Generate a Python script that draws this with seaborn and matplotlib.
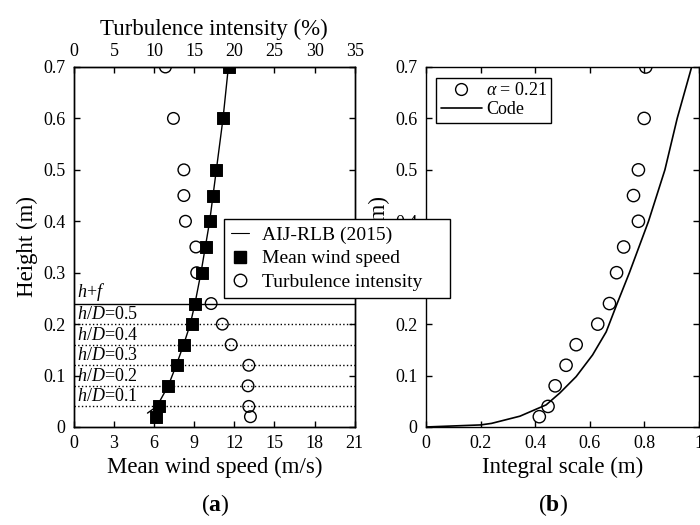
import matplotlib
matplotlib.use("Agg")
import matplotlib.pyplot as plt
import seaborn as sns
from matplotlib.lines import Line2D
from matplotlib.ticker import FormatStrFormatter

# (a) measured profiles
heights = [0.02, 0.04, 0.08, 0.12, 0.16, 0.20, 0.24, 0.30, 0.35, 0.40, 0.45, 0.50, 0.60, 0.70]
mean_speed = [6.1, 6.33, 7.0, 7.67, 8.24, 8.84, 9.04, 9.54, 9.85, 10.16, 10.37, 10.6, 11.16, 11.58]
turb_intensity = [22.0, 21.8, 21.7, 21.8, 19.6, 18.5, 17.1, 15.3, 15.2, 13.9, 13.7, 13.7, 12.4, 11.4]

# AIJ-RLB (2015) profile
aij_height = [0.027, 0.04, 0.08, 0.12, 0.16, 0.20, 0.24, 0.30, 0.40, 0.50, 0.60, 0.70]
aij_speed = [5.5, 6.2, 7.05, 7.65, 8.2, 8.7, 9.05, 9.5, 10.15, 10.65, 11.15, 11.55]

# h/D levels
hd_labels = ["0.1", "0.2", "0.3", "0.4", "0.5"]
hd_heights = [0.04, 0.08, 0.12, 0.16, 0.20]
hf_height = 0.24

# (b) integral scale
scale_height = [0.02, 0.04, 0.08, 0.12, 0.16, 0.20, 0.24, 0.30, 0.35, 0.40, 0.45, 0.50, 0.60, 0.70]
integral_scale = [0.415, 0.447, 0.473, 0.513, 0.55, 0.629, 0.672, 0.698, 0.724, 0.778, 0.76, 0.778, 0.799, 0.805]
code_height = [0, 0.004, 0.007, 0.021, 0.043, 0.066, 0.098, 0.14, 0.185, 0.24, 0.30, 0.35, 0.40, 0.50, 0.60, 0.70]
code_scale = [0, 0.2, 0.24, 0.344, 0.44, 0.49, 0.55, 0.61, 0.66, 0.70, 0.745, 0.78, 0.815, 0.875, 0.92, 0.973]

sns.set_theme(style="ticks")
plt.rcParams['font.family'] = ['Liberation Serif', 'DejaVu Serif']
plt.rcParams['mathtext.fontset'] = 'custom'
plt.rcParams['mathtext.rm'] = 'Liberation Serif'
plt.rcParams['mathtext.it'] = 'Liberation Serif:italic'
plt.rcParams['mathtext.bf'] = 'Liberation Serif:bold'
plt.rcParams['xtick.direction'] = 'in'
plt.rcParams['ytick.direction'] = 'in'
plt.rcParams['axes.linewidth'] = 1.0
plt.rcParams['axes.edgecolor'] = 'black'
plt.rcParams['text.color'] = 'black'
plt.rcParams['axes.labelcolor'] = 'black'
plt.rcParams['xtick.color'] = 'black'
plt.rcParams['ytick.color'] = 'black'

fig = plt.figure(figsize=(7, 5.25), dpi=100)
ax1 = fig.add_axes([0.1057, 0.1867, 0.401, 0.6857])
ax2 = fig.add_axes([0.6086, 0.1867, 0.39, 0.6857])

# ---- panel (a)
sns.lineplot(x=aij_speed, y=aij_height, sort=False, estimator=None, color='black', lw=1, ax=ax1)
sns.scatterplot(x=mean_speed, y=heights, marker='s', s=70, color='black', edgecolor='black', ax=ax1, zorder=3)
for lab, h in zip(hd_labels, hd_heights):
    ax1.axhline(h, color='black', ls=':', lw=1)
    ax1.text(0.2, h + 0.002, r"$h/D$=" + lab, fontsize=13, va='bottom', ha='left')
ax1.axhline(hf_height, color='black', lw=1)
ax1.text(0.25, hf_height + 0.002, r"$h$+$f$", fontsize=13, va='bottom', ha='left')

ax1.set_xlim(0, 21)
ax1.set_ylim(0, 0.7)
ax1.set_xticks(range(0, 22, 3))
ax1.set_yticks([0, 0.1, 0.2, 0.3, 0.4, 0.5, 0.6, 0.7])
ax1.yaxis.set_major_formatter(FormatStrFormatter('%g'))
ax1.tick_params(axis='both', labelsize=13, length=4, width=1, pad=6)
ax1.tick_params(axis='y', right=True)
ax1.set_xlabel('Mean wind speed (m/s)', fontsize=16.5, labelpad=3)
ax1.set_ylabel('Height (m)', fontsize=16.5, labelpad=4)

ax1t = ax1.twiny()
sns.scatterplot(x=turb_intensity, y=heights, marker='o', s=70, facecolors='none',
                edgecolor='black', linewidth=1, ax=ax1t, zorder=3)
ax1t.set_xlim(0, 35)
ax1t.set_ylim(0, 0.7)
ax1t.set_xticks(range(0, 36, 5))
ax1t.tick_params(axis='x', labelsize=13, length=4, width=1, pad=5)
ax1t.set_xlabel('Turbulence intensity (%)', fontsize=16.5, labelpad=6)

# ---- panel (b)
sns.scatterplot(x=integral_scale, y=scale_height, marker='o', s=78, facecolors='none',
                edgecolor='black', linewidth=1, ax=ax2, zorder=3)
sns.lineplot(x=code_scale, y=code_height, sort=False, estimator=None, color='black', lw=1.2, ax=ax2)
ax2.set_xlim(0, 1)
ax2.set_ylim(0, 0.7)
ax2.set_xticks([0, 0.2, 0.4, 0.6, 0.8, 1])
ax2.set_yticks([0, 0.1, 0.2, 0.3, 0.4, 0.5, 0.6, 0.7])
ax2.xaxis.set_major_formatter(FormatStrFormatter('%g'))
ax2.yaxis.set_major_formatter(FormatStrFormatter('%g'))
ax2.tick_params(axis='both', labelsize=13, length=4, width=1, pad=6, top=True, right=True)
ax2.set_xlabel('Integral scale (m)', fontsize=16.5, labelpad=3)
ax2.set_ylabel('Height (m)', fontsize=16.5, labelpad=4)

h_circ = Line2D([], [], ls='none', marker='o', ms=8.5, mfc='none', mec='black', mew=1)
h_code = Line2D([], [], color='black', lw=1.2)
leg2 = ax2.legend([h_circ, h_code], [r"$\alpha$ = 0.21", "Code"], loc='upper left',
                  bbox_to_anchor=(0.037, 0.97), borderaxespad=0, fontsize=13, frameon=True,
                  fancybox=False, edgecolor='black', framealpha=1, handlelength=2.3,
                  handletextpad=0.2, borderpad=0.25, labelspacing=0.1)
leg2.get_frame().set_linewidth(1)

# figure-level legend for panel (a), drawn over panel (b)'s label
h_aij = Line2D([], [], color='black', lw=0.8)
h_sq = Line2D([], [], ls='none', marker='s', ms=8.5, color='black')
h_ti = Line2D([], [], ls='none', marker='o', ms=9, mfc='none', mec='black', mew=1)
leg1 = fig.legend([h_aij, h_sq, h_ti], ['AIJ-RLB (2015)', 'Mean wind speed', 'Turbulence intensity'],
                  loc='upper left', bbox_to_anchor=(0.32, 0.4267, 0.323, 0.1562), mode='expand',
                  borderaxespad=0, fontsize=14, frameon=True, fancybox=False, edgecolor='black',
                  framealpha=1, handlelength=0.9, handletextpad=0.7, borderpad=0.37, labelspacing=0.31)
leg1.get_frame().set_linewidth(1)
leg1.set_zorder(10)

fig.text(0.307, 0.038, r"($\mathbf{a}$)", fontsize=17, ha='center', va='center')
fig.text(0.79, 0.038, r"($\mathbf{b}$)", fontsize=17, ha='center', va='center')

fig.savefig('out.png', dpi=100)
plt.close(fig)
